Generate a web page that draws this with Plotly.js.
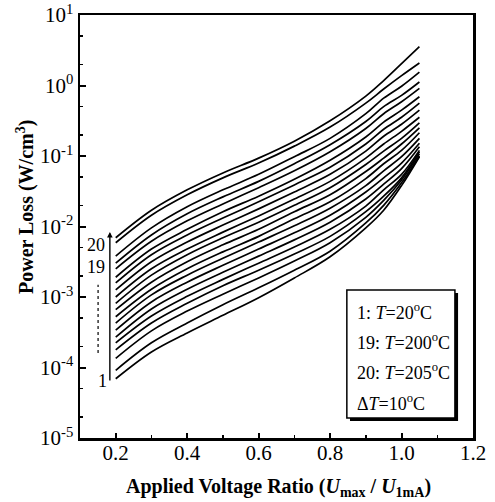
<!DOCTYPE html>
<html>
<head>
<meta charset="utf-8">
<script src="https://cdn.plot.ly/plotly-3.0.1.min.js"></script>
<style>html,body{margin:0;padding:0;background:#fff;}#chart{width:495px;height:502px;}</style>
</head>
<body>
<div id="chart"></div>
<script>
// Applied voltage ratio (Umax / U1mA) sample points
const voltageRatio = [0.2, 0.3, 0.4, 0.5, 0.6, 0.7, 0.8, 0.9, 0.95, 1.0, 1.05];

// log10 of power loss (W/cm^3); curve 1 = 20 °C ... curve 20 = 205 °C
const logLoss_c1  = [-4.16, -3.78, -3.51, -3.26, -3.01, -2.73, -2.43, -2.02, -1.77, -1.42, -1.01];
const logLoss_c2  = [-4.04, -3.65, -3.37, -3.11, -2.87, -2.62, -2.35, -1.95, -1.70, -1.38, -1.00];
const logLoss_c3  = [-3.87, -3.48, -3.20, -2.96, -2.73, -2.49, -2.23, -1.87, -1.63, -1.34, -0.97];
const logLoss_c4  = [-3.75, -3.37, -3.09, -2.84, -2.62, -2.39, -2.14, -1.79, -1.57, -1.31, -0.94];
const logLoss_c5  = [-3.65, -3.27, -2.99, -2.75, -2.52, -2.29, -2.04, -1.71, -1.48, -1.26, -0.92];
const logLoss_c6  = [-3.57, -3.17, -2.89, -2.65, -2.42, -2.19, -1.94, -1.61, -1.40, -1.18, -0.87];
const logLoss_c7  = [-3.47, -3.07, -2.79, -2.55, -2.32, -2.09, -1.84, -1.51, -1.31, -1.10, -0.82];
const logLoss_c8  = [-3.37, -2.97, -2.69, -2.45, -2.22, -1.99, -1.74, -1.42, -1.21, -1.01, -0.75];
const logLoss_c9  = [-3.28, -2.89, -2.60, -2.36, -2.14, -1.89, -1.65, -1.32, -1.11, -0.92, -0.67];
const logLoss_c10 = [-3.18, -2.79, -2.50, -2.26, -2.04, -1.79, -1.55, -1.22, -1.03, -0.83, -0.60];
const logLoss_c11 = [-3.09, -2.69, -2.40, -2.16, -1.94, -1.70, -1.45, -1.12, -0.93, -0.75, -0.53];
const logLoss_c12 = [-3.00, -2.60, -2.32, -2.08, -1.85, -1.61, -1.36, -1.03, -0.83, -0.65, -0.45];
const logLoss_c13 = [-2.90, -2.50, -2.22, -1.98, -1.75, -1.51, -1.26, -0.93, -0.72, -0.55, -0.35];
const logLoss_c14 = [-2.80, -2.40, -2.12, -1.88, -1.65, -1.41, -1.16, -0.83, -0.62, -0.45, -0.25];
const logLoss_c15 = [-2.72, -2.32, -2.04, -1.79, -1.57, -1.33, -1.06, -0.73, -0.52, -0.35, -0.16];
const logLoss_c16 = [-2.60, -2.21, -1.92, -1.68, -1.45, -1.21, -0.94, -0.61, -0.40, -0.23, -0.04];
const logLoss_c17 = [-2.52, -2.12, -1.82, -1.58, -1.36, -1.11, -0.84, -0.51, -0.30, -0.14, 0.05];
const logLoss_c18 = [-2.42, -2.02, -1.72, -1.48, -1.26, -1.01, -0.75, -0.40, -0.18, -0.01, 0.19];
const logLoss_c19 = [-2.23, -1.84, -1.55, -1.31, -1.10, -0.86, -0.59, -0.25, -0.05, 0.14, 0.32];
const logLoss_c20 = [-2.16, -1.77, -1.48, -1.24, -1.03, -0.79, -0.50, -0.15, 0.07, 0.31, 0.55];

const allCurves = [logLoss_c1, logLoss_c2, logLoss_c3, logLoss_c4, logLoss_c5, logLoss_c6, logLoss_c7,
  logLoss_c8, logLoss_c9, logLoss_c10, logLoss_c11, logLoss_c12, logLoss_c13, logLoss_c14,
  logLoss_c15, logLoss_c16, logLoss_c17, logLoss_c18, logLoss_c19, logLoss_c20];

const yTickVals = [1e-5, 1e-4, 1e-3, 1e-2, 1e-1, 1e0, 1e1];
const yTickText = ['10<sup>-5</sup>', '10<sup>-4</sup>', '10<sup>-3</sup>', '10<sup>-2</sup>', '10<sup>-1</sup>', '10<sup>0</sup>', '10<sup>1</sup>'];
const xTickVals = [0.2, 0.4, 0.6, 0.8, 1.0, 1.2];
const xTickText = ['0.2', '0.4', '0.6', '0.8', '1.0', '1.2'];
const legendLines = ['1: <i>T</i>=20<sup>o</sup>C', '19: <i>T</i>=200<sup>o</sup>C', '20: <i>T</i>=205<sup>o</sup>C', '\u0394<i>T</i>=10<sup>o</sup>C'];
const xTitle = '<b>Applied Voltage Ratio (<i>U</i><sub>max</sub> / <i>U</i><sub>1mA</sub>)</b>';
const yTitle = '<b>Power Loss (W/cm<sup>3</sup>)</b>';

const FONT = 'Liberation Serif, Times New Roman, serif';

const traces = allCurves.map((c, i) => ({
  x: voltageRatio,
  y: c.map(v => Math.pow(10, v)),
  type: 'scatter', mode: 'lines',
  line: {color: '#000', width: 1.7, shape: 'spline', smoothing: 1},
  name: 'curve ' + (i + 1), showlegend: false, hoverinfo: 'skip'
}));

const legendY = [0.300, 0.228, 0.157, 0.084];
const annotations = legendLines.map((t, i) => ({
  xref: 'paper', yref: 'paper', x: 0.700, y: legendY[i], xanchor: 'left', yanchor: 'middle',
  text: t, showarrow: false, font: {family: FONT, size: 18, color: '#000'}
}));
annotations.push(
  {xref: 'paper', yref: 'paper', x: 0.040, y: 0.456, xanchor: 'center', yanchor: 'middle', text: '20', showarrow: false, font: {family: FONT, size: 18, color: '#000'}},
  {xref: 'paper', yref: 'paper', x: 0.040, y: 0.404, xanchor: 'center', yanchor: 'middle', text: '19', showarrow: false, font: {family: FONT, size: 18, color: '#000'}},
  {xref: 'paper', yref: 'paper', x: 0.058, y: 0.135, xanchor: 'center', yanchor: 'middle', text: '1', showarrow: false, font: {family: FONT, size: 18, color: '#000'}},
  {xref: 'paper', yref: 'paper', x: 0.076, y: 0.487, ax: 0, ay: 150, axref: 'pixel', ayref: 'pixel',
   text: '', showarrow: true, arrowhead: 2, arrowsize: 0.8, arrowwidth: 1.4, arrowcolor: '#000'},
  {xref: 'paper', yref: 'paper', x: 0.505, y: -0.116, xanchor: 'center', yanchor: 'middle', text: xTitle, showarrow: false, font: {family: FONT, size: 20, color: '#000'}},
  {xref: 'paper', yref: 'paper', x: -0.140, y: 0.546, xanchor: 'center', yanchor: 'middle', textangle: -90, text: yTitle, showarrow: false, font: {family: FONT, size: 20, color: '#000'}}
);

const layout = {
  width: 495, height: 502,
  margin: {l: 80, r: 22, t: 15, b: 64},
  paper_bgcolor: '#fff', plot_bgcolor: '#fff',
  font: {family: FONT, color: '#000'},
  showlegend: false,
  xaxis: {
    range: [0.1, 1.2], tickvals: xTickVals, ticktext: xTickText,
    ticks: 'inside', ticklen: 5, tickwidth: 2, tickcolor: '#000',
    minor: {dtick: 0.1, tick0: 0.1, ticks: 'inside', ticklen: 3, tickwidth: 1.5, tickcolor: '#000'},
    showline: true, linecolor: '#000', linewidth: 2.5, mirror: true,
    showgrid: false, zeroline: false, ticklabelstandoff: -6,
    tickfont: {family: FONT, size: 21, color: '#000'}
  },
  yaxis: {
    type: 'log', range: [-5, 1], tickvals: yTickVals, ticktext: yTickText,
    ticks: 'inside', ticklen: 6, tickwidth: 2, tickcolor: '#000',
    minor: {ticks: 'inside', ticklen: 3, tickwidth: 1.5, tickcolor: '#000'},
    showline: true, linecolor: '#000', linewidth: 2.5, mirror: true,
    showgrid: false, zeroline: false,
    tickfont: {family: FONT, size: 21, color: '#000'}
  },
  shapes: [
    {type: 'rect', xref: 'paper', yref: 'paper', x0: 0.687, x1: 0.962, y0: 0.040, y1: 0.343, fillcolor: '#000', line: {width: 0}},
    {type: 'rect', xref: 'paper', yref: 'paper', x0: 0.679, x1: 0.954, y0: 0.047, y1: 0.350, fillcolor: '#fff', line: {color: '#000', width: 1.5}},
    {type: 'line', xref: 'paper', yref: 'paper', x0: 0.046, x1: 0.046, y0: 0.201, y1: 0.362, line: {color: '#000', width: 1.2, dash: 'dot'}}
  ],
  annotations: annotations
};

Plotly.newPlot('chart', traces, layout, {displayModeBar: false, staticPlot: true});
</script>
</body>
</html>
